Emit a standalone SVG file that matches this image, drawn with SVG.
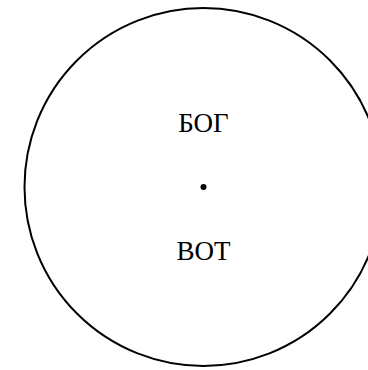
<svg xmlns="http://www.w3.org/2000/svg" width="368" height="370" viewBox="0 0 368 370">
<style>
.lbl{font-family:"Liberation Serif","Times New Roman",serif;font-size:27px;fill:#000;text-anchor:middle}
</style>
<rect width="368" height="370" fill="#fff"/>
<g id="circle">
<circle cx="203.5" cy="187" r="179" fill="none" stroke="#000" stroke-width="2"/>
</g>
<g id="center">
<circle cx="203.5" cy="187" r="3" fill="#000"/>
</g>
<g id="label-top"><text class="lbl" x="203.5" y="131.5">БОГ</text></g>
<g id="label-bottom"><text class="lbl" x="203.5" y="260">ВОТ</text></g>
<g id="connectors"></g>
</svg>
